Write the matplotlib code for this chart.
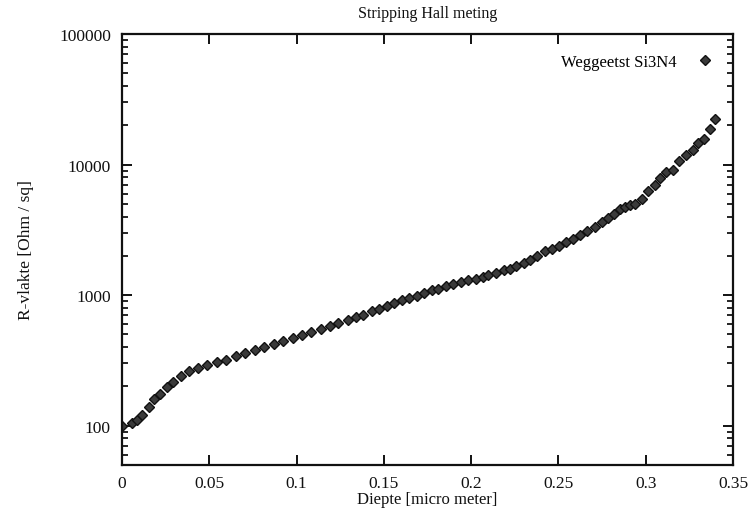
import matplotlib
matplotlib.use("Agg")
import matplotlib.pyplot as plt
from matplotlib.ticker import FixedLocator, FixedFormatter, LogLocator, NullFormatter

depth = [0.0, 0.0056, 0.0084, 0.0113, 0.0156, 0.0183, 0.0218, 0.0256, 0.0294, 0.0338,
         0.0386, 0.0437, 0.0489, 0.0542, 0.0596, 0.0651, 0.0706, 0.0762, 0.0813, 0.0868,
         0.0922, 0.0977, 0.1032, 0.1084, 0.1138, 0.1192, 0.1240, 0.1294, 0.1343, 0.1382,
         0.1430, 0.1472, 0.1516, 0.1560, 0.1602, 0.1644, 0.1688, 0.1732, 0.1774, 0.1812,
         0.1854, 0.1898, 0.1942, 0.1984, 0.2026, 0.2070, 0.2098, 0.2142, 0.2188, 0.2223,
         0.2257, 0.2303, 0.2337, 0.2379, 0.2423, 0.2462, 0.2505, 0.2543, 0.2582, 0.2624,
         0.2665, 0.2710, 0.2748, 0.2786, 0.2818, 0.2853, 0.2881, 0.2910, 0.2939, 0.2977,
         0.3015, 0.3053, 0.3082, 0.3116, 0.3155, 0.3192, 0.3231, 0.3269, 0.3298, 0.3334,
         0.3368, 0.3397]
r_sheet = [99, 104, 110, 120, 139, 160, 176, 198, 216, 239,
           261, 277, 293, 306, 320, 340, 362, 380, 403, 426,
           448, 472, 496, 523, 547, 577, 609, 641, 684, 709,
           751, 788, 831, 871, 912, 952, 991, 1040, 1088, 1122,
           1168, 1218, 1253, 1298, 1331, 1379, 1436, 1480, 1549, 1588,
           1683, 1765, 1871, 2008, 2166, 2260, 2395, 2539, 2696, 2908,
           3083, 3332, 3613, 3905, 4212, 4577, 4742, 4938, 5025, 5459,
           6243, 7025, 7908, 8730, 9043, 10731, 11930, 13030, 14665, 15740,
           18770, 22390]

x_ticks = [0, 0.05, 0.1, 0.15, 0.2, 0.25, 0.3, 0.35]
x_tick_labels = ["0", "0.05", "0.1", "0.15", "0.2", "0.25", "0.3", "0.35"]
y_ticks = [100, 1000, 10000, 100000]
y_tick_labels = ["100", "1000", "10000", "100000"]

plt.rcParams['font.family'] = ['Liberation Serif', 'DejaVu Serif']

fig = plt.figure(figsize=(7.5, 5.1), dpi=100)
ax = fig.add_axes([122/750, 1-466/510, (733-122)/750, (466-35)/510])

ax.plot(depth, r_sheet, linestyle='none', marker='D', markersize=4.8,
        markerfacecolor='#3a3a3a', markeredgecolor='#111111', markeredgewidth=1.0,
        label='Weggeetst Si3N4')

ax.set_yscale('log')
ax.set_xlim(0, 0.35)
ax.set_ylim(50, 100000)

ax.xaxis.set_major_locator(FixedLocator(x_ticks))
ax.xaxis.set_major_formatter(FixedFormatter(x_tick_labels))
ax.yaxis.set_major_locator(FixedLocator(y_ticks))
ax.yaxis.set_major_formatter(FixedFormatter(y_tick_labels))
ax.yaxis.set_minor_locator(LogLocator(base=10, subs=range(2, 10)))
ax.yaxis.set_minor_formatter(NullFormatter())

ax.tick_params(axis='both', which='major', direction='in', length=7, width=1.4,
               top=True, right=True, labelsize=12.5, pad=8, colors='#111111')
ax.tick_params(axis='x', which='major', pad=7)
ax.tick_params(axis='y', which='minor', direction='in', length=4, width=1.2,
               left=True, right=True)
for s in ax.spines.values():
    s.set_linewidth(1.6)
    s.set_color('#111111')

ax.set_title('Stripping Hall meting', fontsize=11.5, pad=12, color='#111111')
ax.set_xlabel('Diepte [micro meter]', fontsize=12, labelpad=0, color='#111111')
ax.set_ylabel('R-vlakte [Ohm / sq]', fontsize=12.5, labelpad=18, color='#111111')

leg = ax.legend(loc='upper right', frameon=False, markerfirst=False, fontsize=12,
                handlelength=1.0, handletextpad=1.2, borderaxespad=0.8)

fig.savefig('out.png', dpi=100)
